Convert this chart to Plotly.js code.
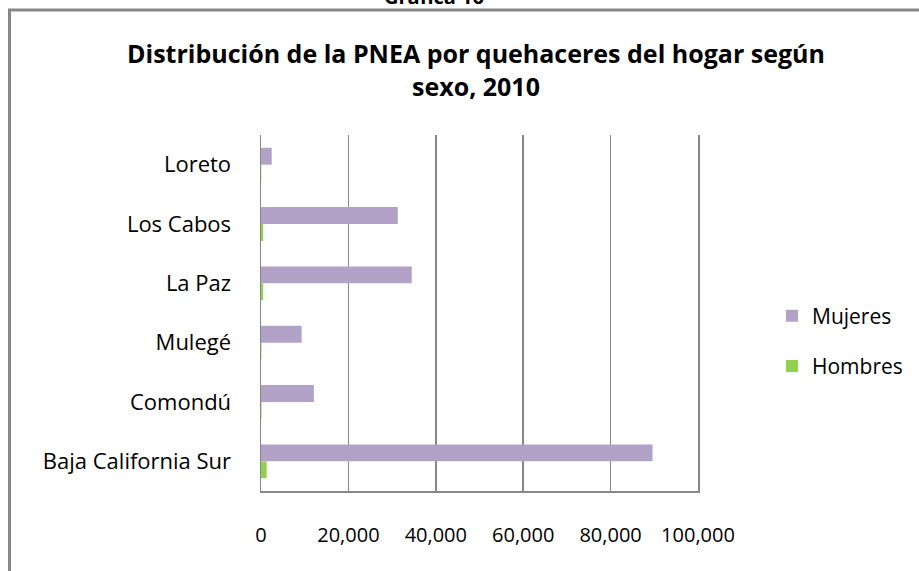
<!DOCTYPE html>
<html>
<head>
<meta charset="utf-8">
<script src="https://cdn.plot.ly/plotly-3.0.1.min.js"></script>
<style>html,body{margin:0;padding:0;background:#fff;}#chart{width:919px;height:571px;}</style>
</head>
<body>
<div id="chart"></div>
<script>
const categories = ['Baja California Sur', 'Comondú', 'Mulegé', 'La Paz', 'Los Cabos', 'Loreto'];
const mujeres = [89600, 12100, 9300, 34500, 31300, 2450];
const hombres = [1300, 120, 100, 500, 500, 60];
const xTicks = [0, 20000, 40000, 60000, 80000, 100000];

const W = 919, H = 571;
const L = 261, R = 698, T = 135, B = 491;
const px = x => (x - L) / (R - L);
const py = y => (B - y) / (B - T);

const FONT = '"Open Sans", Lato, sans-serif';

const traces = [
  {type: 'bar', orientation: 'h', name: 'Hombres', y: categories, x: hombres,
   marker: {color: '#92D050'}, legendgroup: 'h', legendrank: 2, hoverinfo: 'x+y'},
  {type: 'bar', orientation: 'h', name: 'Mujeres', y: categories, x: mujeres,
   marker: {color: '#B3A2C7'}, legendgroup: 'm', legendrank: 1, hoverinfo: 'x+y'}
];

const layout = {
  width: W, height: H,
  margin: {l: L, r: W - R, t: T, b: H - B, pad: 0},
  paper_bgcolor: '#ffffff', plot_bgcolor: '#ffffff',
  font: {family: FONT, size: 20, color: '#000'},
  title: {
    text: 'Distribución de la PNEA por quehaceres del hogar según<br>sexo, 2010',
    font: {family: FONT, size: 25, color: '#000', weight: 'bold'},
    x: 476 / W, xanchor: 'center', xref: 'container',
    y: 1 - 63 / H, yanchor: 'middle', yref: 'container'
  },
  barmode: 'group', bargap: 0.43, bargroupgap: 0,
  xaxis: {
    range: [0, 100000], tickvals: xTicks, tickformat: ',d',
    showgrid: true, gridcolor: '#878787', gridwidth: 1.5,
    showline: true, linecolor: '#878787', linewidth: 1.5,
    zeroline: false, ticks: '', ticklabelstandoff: 25,
    tickfont: {family: FONT, size: 20, color: '#000'}, fixedrange: true
  },
  yaxis: {
    type: 'category', categoryorder: 'array', categoryarray: categories,
    showgrid: false, showline: true, mirror: true, linecolor: '#878787', linewidth: 1.5,
    zeroline: false, ticks: '', ticklabelstandoff: 24,
    tickfont: {family: FONT, size: 22, color: '#000'}, fixedrange: true
  },
  legend: {
    x: 772 / W, xref: 'container', xanchor: 'left',
    y: 1 - 341 / H, yref: 'container', yanchor: 'middle',
    traceorder: 'grouped', tracegroupgap: 20,
    font: {family: FONT, size: 21, color: '#000'},
    bgcolor: 'rgba(0,0,0,0)', itemwidth: 30
  },
  shapes: [
    {type: 'rect', xref: 'paper', yref: 'paper',
     x0: px(9.5), x1: px(930), y0: py(10), y1: py(590),
     line: {color: '#878787', width: 3}, fillcolor: 'rgba(0,0,0,0)', layer: 'below'}
  ],
  annotations: [
    {text: '<b>Gráfica 16</b>', xref: 'paper', yref: 'paper',
     x: px(434), y: py(-4), xanchor: 'center', yanchor: 'middle',
     showarrow: false, font: {family: FONT, size: 20, color: '#000'}}
  ],
  showlegend: true
};

Plotly.newPlot('chart', traces, layout, {displayModeBar: false, staticPlot: true});
</script>
</body>
</html>
